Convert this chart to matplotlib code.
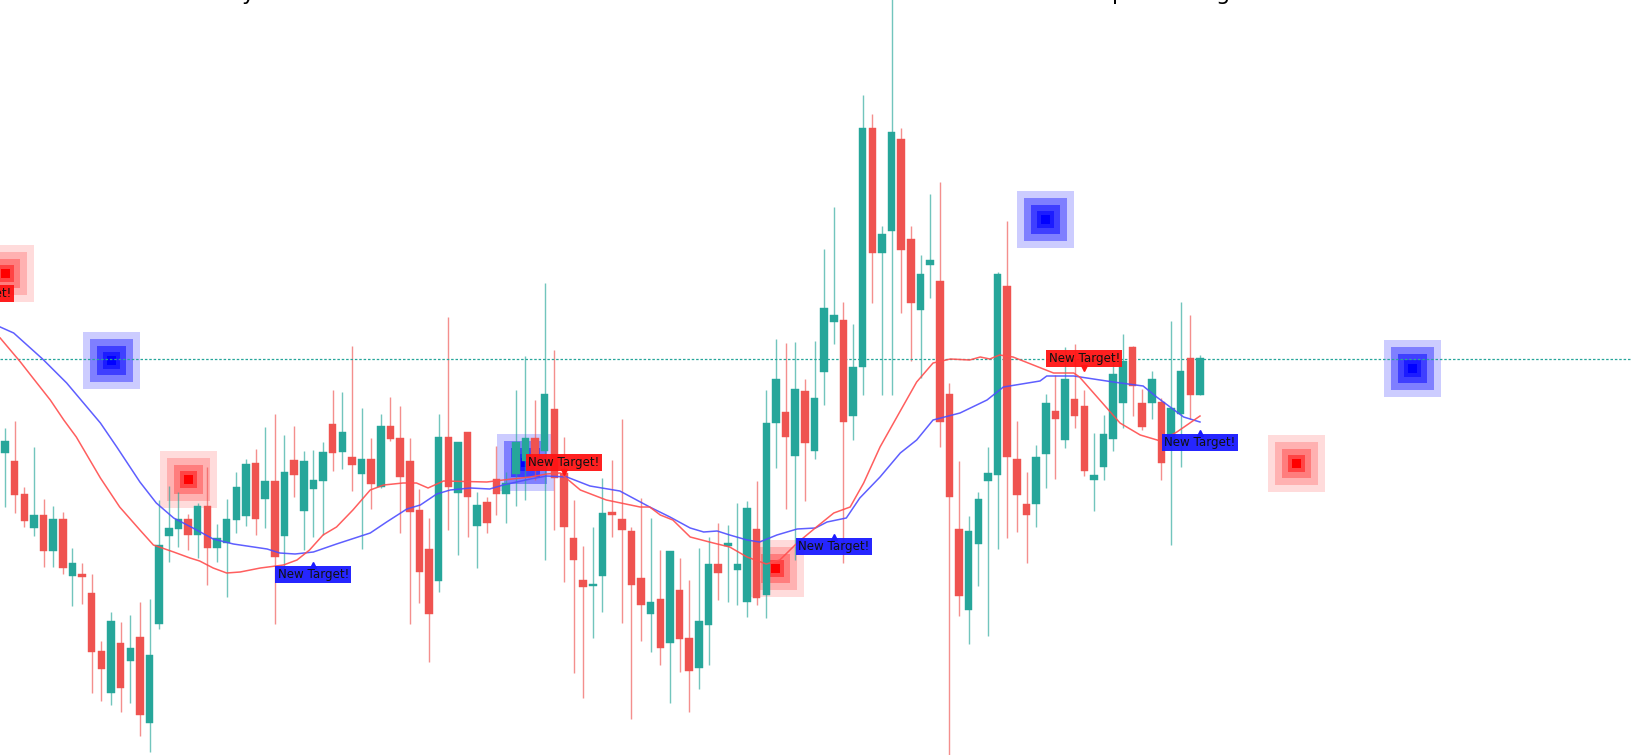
import numpy as np
import matplotlib
matplotlib.use('Agg')
import matplotlib.pyplot as plt
from matplotlib.patches import Rectangle

# Candle data (price units, one entry per bar)
##############################################################################

opens = [302, 294, 261, 227, 240, 204, 236, 179, 181, 162, 104, 62, 112, 94, 118, 32,
         131, 219, 226, 236, 220, 249, 207, 212, 235, 239, 292, 256, 274, 219, 295, 244,
         266, 274, 331, 303, 298, 281, 296, 268, 329, 317, 294, 245, 206, 174, 318, 262,
         323, 229, 253, 276, 261, 281, 294, 317, 304, 346, 282, 217, 175, 169, 179, 243,
         236, 224, 177, 141, 156, 112, 165, 117, 87, 130, 191, 209, 185, 153, 226, 160,
         332, 343, 299, 364, 304, 383, 433, 435, 339, 388, 627, 502, 524, 616, 516, 445,
         490, 474, 361, 226, 145, 211, 274, 280, 469, 296, 251, 251, 301, 344, 315, 356,
         349, 275, 288, 316, 352, 408, 352, 352, 353, 310, 341, 397, 360]
highs = [327, 334, 268, 308, 256, 249, 243, 207, 192, 181, 114, 143, 133, 140, 153, 156,
         255, 269, 263, 241, 252, 288, 231, 256, 283, 296, 306, 328, 341, 320, 329, 304,
         305, 313, 365, 363, 409, 347, 317, 341, 358, 349, 317, 266, 237, 341, 438, 313,
         323, 263, 258, 309, 283, 365, 399, 355, 472, 405, 318, 255, 209, 228, 277, 295,
         336, 228, 257, 237, 205, 204, 197, 175, 207, 218, 232, 230, 252, 254, 274, 365,
         416, 412, 413, 376, 414, 506, 548, 453, 431, 660, 641, 529, 760, 627, 529, 500,
         561, 573, 372, 294, 239, 263, 308, 483, 534, 334, 283, 310, 361, 380, 408, 411,
         365, 322, 340, 399, 421, 409, 366, 384, 357, 434, 453, 440, 400]
lows = [248, 242, 228, 219, 188, 188, 181, 149, 151, 62, 54, 50, 43, 52, 19, 3,
        126, 193, 208, 205, 197, 170, 193, 158, 222, 229, 220, 227, 131, 176, 258, 205,
        218, 220, 284, 286, 264, 206, 246, 267, 314, 222, 131, 152, 93, 163, 225, 200,
        218, 187, 222, 240, 232, 249, 255, 275, 195, 225, 173, 82, 57, 117, 143, 218,
        132, 36, 114, 103, 90, 52, 83, 43, 66, 90, 155, 153, 150, 138, 150, 137,
        287, 246, 195, 254, 296, 350, 411, 192, 315, 360, 452, 360, 360, 442, 394, 377,
        457, 308, -5, 139, 111, 169, 119, 206, 217, 223, 192, 228, 267, 276, 307, 327,
        279, 244, 275, 304, 327, 339, 325, 336, 275, 210, 288, 336, 360]
closes = [314, 260, 234, 240, 204, 236, 187, 192, 178, 103, 86, 134, 67, 107, 40, 100,
          210, 227, 236, 220, 249, 207, 217, 236, 268, 291, 236, 274, 198, 283, 280, 294,
          275, 303, 302, 323, 290, 296, 271, 329, 316, 278, 243, 183, 141, 318, 268, 313,
          258, 250, 232, 261, 272, 313, 317, 298, 361, 277, 228, 195, 168, 171, 242, 240,
          225, 170, 150, 153, 107, 204, 116, 84, 134, 191, 182, 212, 191, 247, 157, 332,
          376, 318, 366, 312, 357, 447, 440, 333, 388, 627, 502, 521, 623, 505, 452, 481,
          495, 333, 258, 159, 224, 256, 282, 481, 298, 260, 240, 298, 352, 336, 376, 339,
          284, 280, 321, 381, 394, 369, 328, 376, 292, 347, 384, 360, 397]

# Moving average lines (bar position, value)
blue_ma_x = [-0.5, 0.9, 3.9, 6.4, 9.9, 11.6, 14.0, 15.7, 17.5, 19.5, 21.6, 23.7, 25.1, 27.2,
             28.5, 30.1, 32.0, 34.4, 37.9, 39.6, 41.7, 43.1, 44.8, 46.2, 48.3, 50.3, 51.7,
             54.5, 56.2, 58.3, 60.7, 63.8, 66.9, 69.0, 71.1, 72.5, 73.9, 75.2, 77.0, 78.3,
             80.1, 82.2, 84.1, 85.3, 87.3, 88.7, 90.8, 92.9, 94.6, 96.3, 99.1, 101.9, 103.6,
             107.4, 108.1, 110.9, 115.0, 118.1, 119.5, 122.3, 124.0]
blue_ma_y = [428, 422, 396, 372, 332, 308, 273, 252, 237, 227, 216, 211, 209, 206, 202, 201,
             203, 211, 222, 233, 246, 250, 261, 265, 267, 266, 270, 276, 279, 278, 269, 264,
             248, 238, 227, 223, 224, 220, 215, 213, 220, 226, 227, 233, 237, 257, 278, 302,
             315, 335, 342, 355, 368, 374, 379, 379, 373, 369, 358, 338, 333]
red_ma_x = [-0.5, 1.6, 2.9, 4.7, 6.1, 7.4, 9.9, 11.9, 14.0, 15.4, 17.5, 19.2, 20.2, 21.6,
            23.0, 24.4, 26.5, 28.9, 30.3, 31.6, 33.0, 34.4, 36.1, 37.9, 39.3, 41.3, 42.7,
            43.9, 45.5, 50.0, 51.7, 54.5, 56.2, 57.6, 59.7, 62.4, 65.9, 66.9, 68.0, 69.3,
            71.1, 73.5, 75.2, 77.0, 79.0, 80.4, 82.2, 84.2, 86.0, 87.7, 89.1, 90.8, 92.9,
            94.6, 96.3, 98.1, 100.1, 101.2, 102.2, 103.2, 104.6, 106.7, 108.8, 110.9, 111.5,
            113.6, 115.7, 117.8, 119.9, 121.6, 124.0]
red_ma_y = [417, 393, 377, 355, 335, 318, 277, 248, 225, 210, 203, 197, 194, 187, 182, 183,
            187, 190, 195, 205, 220, 228, 245, 265, 270, 272, 272, 267, 274, 273, 275, 278,
            281, 282, 265, 255, 248, 248, 240, 235, 218, 212, 208, 198, 191, 195, 212, 228,
            242, 248, 272, 308, 344, 373, 392, 396, 395, 398, 396, 400, 398, 390, 382, 382,
            378, 355, 332, 320, 314, 323, 339]

# Target boxes and labels
target_x = [0, 11, 19, 54, 80, 108, 134, 146]
target_y = [482, 395, 276, 293, 187, 536, 291.5, 387]
target_side = ['red', 'blue', 'red', 'blue', 'red', 'blue', 'red', 'blue']

label_x = [-3, 32, 58, 86, 112, 124]
label_y = [449, 193, 280, 221, 384, 325]
label_side = ['red', 'blue', 'red', 'blue', 'red', 'blue']

level = 396

# Plot
##############################################################################

W, H = 1632, 755
fig = plt.figure(figsize=(W / 100, H / 100), dpi=100)
ax = fig.add_axes([0, 0, 1, 1])
ax.axis('off')

bar_px = 9.637  # pixel width of one bar slot
ax.set_xlim(-5 / bar_px, (W - 5) / bar_px)
ax.set_ylim(0, H)

up_col, down_col = '#26a69a', '#ef5350'

# nested target squares
box_sizes = [57, 43, 29, 17, 9]
box_alpha = {'red': [0.14, 0.19, 0.29, 0.45, 1.0],
             'blue': [0.2, 0.375, 0.5, 0.55, 1.0]}
box_col = {'red': '#ff0000', 'blue': '#0000ff'}
for x, y, side in zip(target_x, target_y, target_side):
    for s, a in zip(box_sizes, box_alpha[side]):
        ax.add_patch(Rectangle((x - s / 2 / bar_px, y - s / 2), s / bar_px, s,
                               facecolor=box_col[side], edgecolor='none',
                               alpha=a, zorder=1))

# candles
idx = np.arange(len(opens))
o = np.array(opens); c = np.array(closes)
colors = np.where(c >= o, up_col, down_col)
ax.vlines(idx, lows, highs, colors=colors, linewidth=1.0, alpha=0.65, zorder=2)
bottoms = np.minimum(o, c)
heights = np.maximum(np.abs(c - o), 1.5)
ax.bar(idx, heights, bottom=bottoms, width=0.78, color=colors,
       edgecolor=colors, linewidth=0.3, zorder=3)

# horizontal level
ax.axhline(level, color='#26a69a', linestyle=(0, (2, 1.5)), linewidth=0.9, zorder=2)

# moving averages
ax.plot(blue_ma_x, blue_ma_y, color='#4d4dff', linewidth=1.1, alpha=0.9, zorder=4)
ax.plot(red_ma_x, red_ma_y, color='#ff4d4d', linewidth=1.1, alpha=0.9, zorder=4)

# "New Target!" labels
lab_col = {'red': '#ff1414', 'blue': '#1a1aff'}
for x, y, side in zip(label_x, label_y, label_side):
    dy = 9 if side == 'red' else -9
    mk = 'v' if side == 'red' else '^'
    ax.plot(x, y + (3 if side == 'red' else -3), marker=mk, ms=5,
            color=lab_col[side], zorder=5, clip_on=False)
    ax.annotate('New Target!', xy=(x, y), xytext=(0, dy), textcoords='offset points',
                ha='center', va='center', fontsize=8.6, color='#111111', zorder=6,
                annotation_clip=False,
                bbox=dict(boxstyle='square,pad=0.2', fc=lab_col[side], ec='none',
                          alpha=0.95))

# title glyphs cut off by the top edge
for ch, xp in zip(['y', 'p', 'g'], [248, 1119, 1223]):
    fig.text(xp / W, 1.0, ch, fontsize=16, va='baseline', ha='center', color='black')

fig.savefig('out.png', dpi=100, facecolor='white')
